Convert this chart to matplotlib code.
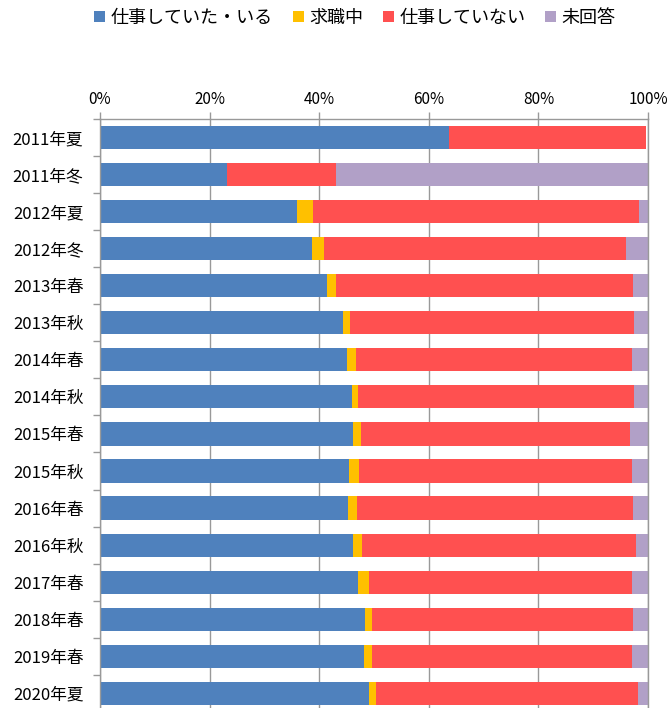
import matplotlib

matplotlib.use("Agg")
import matplotlib.pyplot as plt
import numpy as np
from matplotlib.patches import Patch

plt.rcParams["font.family"] = ["Noto Sans CJK JP", "DejaVu Sans"]

# survey waves, top to bottom
waves = ["2011年夏", "2011年冬", "2012年夏", "2012年冬", "2013年春", "2013年秋",
         "2014年春", "2014年秋", "2015年春", "2015年秋", "2016年春", "2016年秋",
         "2017年春", "2018年春", "2019年春", "2020年夏"]

# shares in %
working = [63.7, 23.2, 35.9, 38.7, 41.5, 44.3, 45.1, 46.0, 46.2, 45.4, 45.3, 46.2,
           47.1, 48.4, 48.2, 49.1]
seeking = [0.0, 0.0, 2.9, 2.1, 1.5, 1.4, 1.6, 1.1, 1.4, 1.8, 1.6, 1.6,
           2.0, 1.2, 1.5, 1.2]
not_working = [36.0, 19.8, 59.6, 55.2, 54.3, 51.8, 50.4, 50.3, 49.1, 49.8, 50.4, 50.1,
               48.0, 47.7, 47.4, 47.9]
no_answer = [0.0, 57.0, 1.6, 4.0, 2.7, 2.5, 2.9, 2.6, 3.3, 3.0, 2.7, 2.1,
             2.9, 2.7, 2.9, 1.8]

series_names = ["仕事していた・いる", "求職中", "仕事していない", "未回答"]
colors = ["#4F81BD", "#FFC000", "#FF5050", "#B1A0C7"]
x_ticks = [0, 20, 40, 60, 80, 100]

fig = plt.figure(figsize=(6.67, 7.08), dpi=100)
ax = fig.add_axes([0.1499, -0.0054, 0.8216, 0.8373])

y = np.arange(len(waves))
left = np.zeros(len(waves))
for vals, color in zip([working, seeking, not_working, no_answer], colors):
    vals = np.array(vals)
    ax.barh(y, vals, left=left, height=0.625, color=color, edgecolor="none", zorder=2)
    left += vals

ax.set_xlim(0, 100)
ax.set_ylim(len(waves) - 0.5, -0.5)

grid_c = "#999999"
ax.xaxis.tick_top()
ax.set_xticks(x_ticks)
ax.set_xticklabels([f"{v}%" for v in x_ticks], fontsize=11)
ax.tick_params(axis="x", length=5, width=1.0, color=grid_c, pad=3)
ax.grid(axis="x", color=grid_c, linewidth=1.0, zorder=0)
ax.set_axisbelow(True)

ax.set_yticks(y)
ax.set_yticklabels(waves, fontsize=12)
ax.tick_params(axis="y", which="major", length=0, pad=12)
ax.set_yticks(np.arange(len(waves) + 1) - 0.5, minor=True)
ax.tick_params(axis="y", which="minor", length=5, width=1.0, color=grid_c, direction="out")

for side in ["top", "left", "right"]:
    ax.spines[side].set_color(grid_c)
    ax.spines[side].set_linewidth(1.0)
ax.spines["bottom"].set_visible(False)

handles = [Patch(facecolor=c, edgecolor="none") for c in colors]
fig.legend(handles, series_names, loc="center", bbox_to_anchor=(0.532, 0.975), ncol=4,
           frameon=False, fontsize=13, handlelength=0.6, handleheight=0.6,
           handletextpad=0.3, columnspacing=1.1)

fig.savefig("out.png", dpi=100)
